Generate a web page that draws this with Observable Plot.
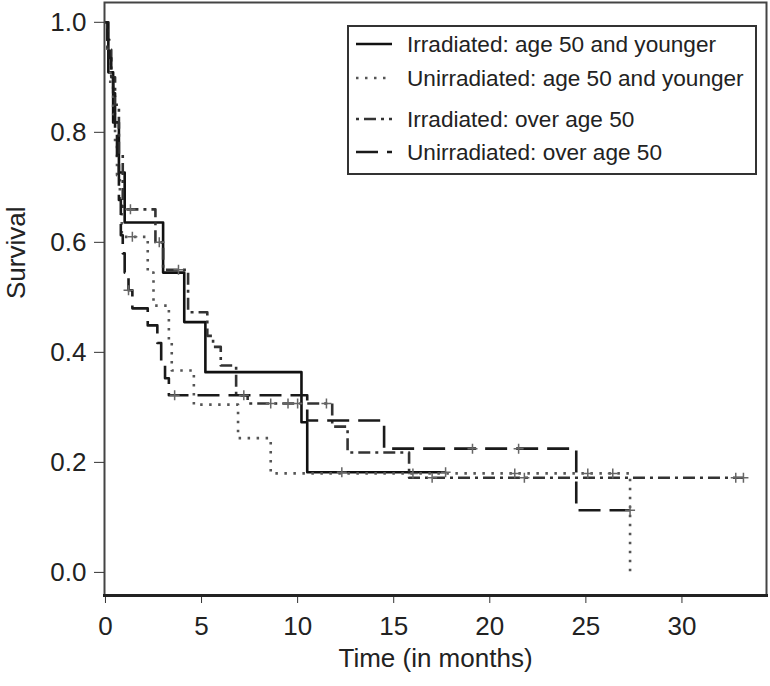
<!DOCTYPE html>
<html><head><meta charset="utf-8">
<script src="https://cdn.jsdelivr.net/npm/d3@7"></script>
<script src="https://cdn.jsdelivr.net/npm/@observablehq/plot@0.6"></script>
<style>
body{margin:0;background:#fff}
#chart{position:relative;width:770px;height:686px}
</style>
</head><body><div id="chart"></div>
<script>
// ---- data ----
const seriesNames = ["Irradiated: age 50 and younger","Unirradiated: age 50 and younger","Irradiated: over age 50","Unirradiated: over age 50"];

const irr50Times   = [0, 0.15, 0.4, 0.7, 1.0, 3.0, 4.1, 5.2, 10.2, 10.5, 17.7];
const irr50Surv    = [1, 0.909, 0.818, 0.727, 0.636, 0.545, 0.455, 0.364, 0.273, 0.182, 0.182];
const irr50Censor  = [12.3, 17.7];

const unirr50Times  = [0, 0.1, 0.25, 0.4, 0.5, 0.6, 0.75, 0.85, 2.2, 2.5, 3.3, 3.45, 4.6, 6.9, 8.6, 27.3];
const unirr50Surv   = [1, 0.944, 0.889, 0.833, 0.778, 0.722, 0.667, 0.61, 0.545, 0.485, 0.42, 0.367, 0.305, 0.244, 0.18, 0.0];
const unirr50Censor = [1.4, 16.0, 21.3, 25.1, 26.4];

const irrOldTimes  = [0, 0.1, 0.3, 0.5, 0.7, 0.9, 2.6, 3.0, 4.3, 5.3, 5.6, 6.0, 6.8, 7.4, 11.8, 12.6, 15.8, 33.2];
const irrOldSurv   = [1, 0.95, 0.9, 0.85, 0.76, 0.66, 0.6, 0.55, 0.473, 0.43, 0.41, 0.376, 0.322, 0.307, 0.265, 0.218, 0.172, 0.172];
const irrOldCensor = [1.3, 2.8, 3.8, 7.2, 8.6, 9.5, 10.0, 11.5, 17.0, 21.8, 32.8, 33.2];

const unirrOldTimes  = [0, 0.1, 0.2, 0.3, 0.4, 0.5, 0.6, 0.7, 0.8, 0.9, 1.0, 1.2, 1.4, 2.2, 2.7, 2.9, 3.1, 3.3, 10.5, 14.5, 24.5, 27.3];
const unirrOldSurv   = [1, 0.968, 0.935, 0.903, 0.871, 0.806, 0.742, 0.677, 0.613, 0.58, 0.545, 0.513, 0.48, 0.449, 0.417, 0.385, 0.353, 0.322, 0.276, 0.225, 0.113, 0.113];
const unirrOldCensor = [1.2, 3.6, 19.1, 21.5, 27.3];

const xTicks = [0, 5, 10, 15, 20, 25, 30];
const yTicks = [0, 0.2, 0.4, 0.6, 0.8, 1.0];
const xTitle = "Time (in months)";
const yTitle = "Survival";

// ---- styles ----
const styles = [
  {color: "#111", dash: null,         width: 2.6},
  {color: "#555", dash: "2.5,6.5",    width: 2.6},
  {color: "#333", dash: "3,5,12,5",   width: 2.6},
  {color: "#1a1a1a", dash: "22,9",    width: 2.6}
];

const stepData = (times, surv) => times.map((t, i) => ({t, s: surv[i]}));
const survAt = (times, surv, t) => { let k = 0; for (let i = 0; i < times.length; i++) if (times[i] <= t) k = i; return surv[k]; };
const censorData = (times, surv, cens) => cens.map(t => ({t, s: survAt(times, surv, t)}));

const series = [
  [irr50Times, irr50Surv, irr50Censor],
  [unirr50Times, unirr50Surv, unirr50Censor],
  [irrOldTimes, irrOldSurv, irrOldCensor],
  [unirrOldTimes, unirrOldSurv, unirrOldCensor]
];

const plusSymbol = {draw(ctx, size) { const r = Math.sqrt(size / Math.PI); ctx.moveTo(-r, 0); ctx.lineTo(r, 0); ctx.moveTo(0, -r); ctx.lineTo(0, r); }};

const marks = [Plot.frame({stroke: "#444", strokeWidth: 2})];
series.forEach(([t, s, c], i) => {
  marks.push(Plot.line(stepData(t, s), {x: "t", y: "s", curve: "step-after", stroke: styles[i].color, strokeWidth: styles[i].width, strokeDasharray: styles[i].dash, strokeLinecap: "butt"}));
});
series.forEach(([t, s, c], i) => {
  marks.push(Plot.dot(censorData(t, s, c), {x: "t", y: "s", symbol: plusSymbol, r: 5, stroke: "#666", strokeWidth: 1.5, fill: "none"}));
});
marks.push(
  Plot.axisX({ticks: xTicks, tickSize: 8, tickPadding: 13, tickFormat: d => String(d), label: null, stroke: "#333", fill: "#222"}),
  Plot.axisY({ticks: yTicks, tickSize: 10, tickPadding: 8, tickFormat: d3.format(".1f"), label: null, stroke: "#333", fill: "#222"}),
  Plot.frame({anchor: "bottom", stroke: "#222", strokeWidth: 3}),
  Plot.text([xTitle], {frameAnchor: "bottom", dy: 63, lineAnchor: "middle", fill: "#222"}),
  Plot.text([yTitle], {frameAnchor: "left", dx: -88, rotate: -90, lineAnchor: "middle", fill: "#222"})
);

const chart = Plot.plot({
  width: 770, height: 686,
  marginLeft: 104, marginRight: 4, marginTop: 2, marginBottom: 91,
  style: {fontFamily: "'Liberation Sans', Arial, sans-serif", fontSize: "26px", background: "#fff", overflow: "visible"},
  x: {domain: [-0.05, 34.4]},
  y: {domain: [-0.042, 1.036]},
  marks
});
document.getElementById("chart").append(chart);

// ---- legend (inside the plot, top right) ----
const svg = d3.select(chart);
const lg = svg.append("g").attr("class", "legend");
lg.append("rect").attr("x", 348).attr("y", 26).attr("width", 408).attr("height", 148)
  .attr("fill", "#fff").attr("stroke", "#333").attr("stroke-width", 2);
const rowY = [44, 78, 119, 152];
seriesNames.forEach((name, i) => {
  lg.append("line").attr("x1", 356).attr("x2", 392).attr("y1", rowY[i]).attr("y2", rowY[i])
    .attr("stroke", styles[i].color).attr("stroke-width", styles[i].width)
    .attr("stroke-dasharray", styles[i].dash);
  lg.append("text").attr("x", 407).attr("y", rowY[i]).attr("dy", "0.36em")
    .attr("text-anchor", "start").attr("font-size", 22.6).attr("fill", "#222").text(name);
});
</script></body></html>
